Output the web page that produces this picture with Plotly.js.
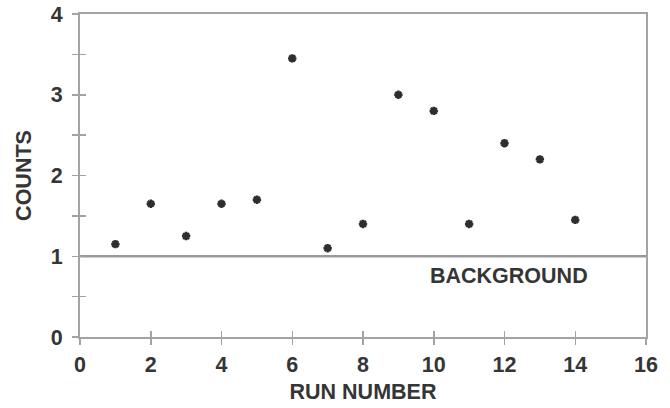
<!DOCTYPE html>
<html>
<head>
<meta charset="utf-8">
<script src="https://cdn.plot.ly/plotly-3.0.1.min.js"></script>
<style>
  html, body { margin: 0; padding: 0; background: #fff; }
  #chart { width: 670px; height: 408px; }
</style>
</head>
<body>
<div id="chart"></div>
<script>
// Counts recorded for each run, with the background level drawn as a reference line.
const runNumber = [1, 2, 3, 4, 5, 6, 7, 8, 9, 10, 11, 12, 13, 14];
const counts = [1.15, 1.65, 1.25, 1.65, 1.7, 3.45, 1.1, 1.4, 3.0, 2.8, 1.4, 2.4, 2.2, 1.45];
const background = 1;
const backgroundLabel = 'BACKGROUND';
const xTickVals = [0, 2, 4, 6, 8, 10, 12, 14, 16];
const yTickVals = [0, 1, 2, 3, 4];

const axisGray = '#a3a3a3';
const textGray = '#353535';
const font = { family: 'Liberation Sans, Arial, sans-serif', size: 21.5, color: textGray, weight: 'bold' };

const points = {
  x: runNumber,
  y: counts,
  type: 'scatter',
  mode: 'markers',
  marker: { symbol: 'asterisk-open', size: 7, color: '#2e2e2e', line: { color: '#2e2e2e', width: 2.5 } },
  hoverinfo: 'x+y',
  showlegend: false
};

// invisible trace that activates the second (inside-tick) axis pair
const tickHelper = {
  x: [0], y: [0], xaxis: 'x2', yaxis: 'y2',
  type: 'scatter', mode: 'markers', marker: { opacity: 0 },
  hoverinfo: 'skip', showlegend: false
};

const layout = {
  width: 670,
  height: 408,
  margin: { l: 80, r: 24, t: 14, b: 71 },
  paper_bgcolor: '#ffffff',
  plot_bgcolor: '#ffffff',
  font: font,
  xaxis: {
    range: [0, 16],
    tickvals: xTickVals,
    ticks: 'outside', ticklen: 6, tickwidth: 1.5, tickcolor: axisGray,
    showline: true, linecolor: axisGray, linewidth: 2, mirror: true,
    showgrid: false, zeroline: false,
    ticklabelstandoff: 1,
    tickfont: font,
    title: { text: 'RUN NUMBER', font: font, standoff: 8 }
  },
  yaxis: {
    range: [0, 4],
    tickvals: yTickVals,
    ticks: 'outside', ticklen: 6, tickwidth: 1.5, tickcolor: axisGray,
    minor: { dtick: 0.5, ticks: 'outside', ticklen: 6, tickwidth: 1.5, tickcolor: axisGray, showgrid: false },
    showline: true, linecolor: axisGray, linewidth: 2, mirror: true,
    showgrid: false, zeroline: false,
    ticklabelstandoff: 5,
    tickfont: font,
    title: { text: 'COUNTS', font: font, standoff: 13 }
  },
  xaxis2: {
    overlaying: 'x', range: [0, 16], tickvals: xTickVals,
    ticks: 'inside', ticklen: 6, tickwidth: 1.5, tickcolor: axisGray,
    showticklabels: false, showline: false, showgrid: false, zeroline: false
  },
  yaxis2: {
    overlaying: 'y', range: [0, 4], dtick: 0.5, tick0: 0,
    ticks: 'inside', ticklen: 6, tickwidth: 1.5, tickcolor: axisGray,
    showticklabels: false, showline: false, showgrid: false, zeroline: false
  },
  shapes: [{
    type: 'line', xref: 'paper', x0: 0, x1: 1, yref: 'y', y0: background, y1: background,
    line: { color: '#999999', width: 2.5 }, layer: 'below'
  }],
  annotations: [{
    text: backgroundLabel, xref: 'x', yref: 'y', x: 12.13, y: background,
    yanchor: 'top', yshift: -6, showarrow: false, font: font
  }]
};

Plotly.newPlot('chart', [tickHelper, points], layout, { staticPlot: true, displayModeBar: false });
</script>
</body>
</html>
